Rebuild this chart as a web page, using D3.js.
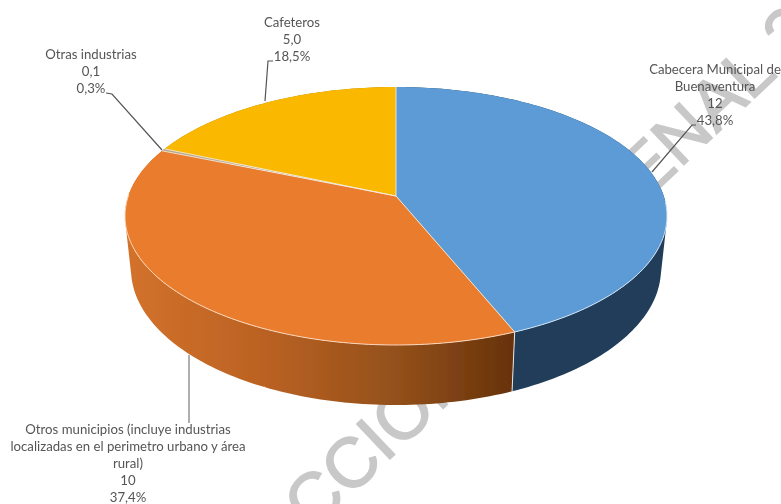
<!DOCTYPE html>
<html>
<head>
<meta charset="utf-8">
<script src="https://cdn.jsdelivr.net/npm/d3@7"></script>
<style>
html,body{margin:0;padding:0;background:#fff;}
svg{display:block;}
</style>
</head>
<body>
<svg id="chart" width="781" height="504"></svg>
<script>
const categories = ["Cabecera Municipal de Buenaventura", "Otros municipios (incluye industrias localizadas en el perimetro urbano y área rural)", "Otras industrias", "Cafeteros"];
const amounts = ["12", "10", "0,1", "5,0"];
const percents = [43.8, 37.4, 0.3, 18.5];
const topColors = ["#5b9bd5", "#ea7c2e", "#b9a58f", "#fab900"];
const labelLines = [
  ["Cabecera Municipal de", "Buenaventura"],
  ["Otros municipios (incluye industrias", "localizadas en el perimetro urbano y área", "rural)"],
  ["Otras industrias"],
  ["Cafeteros"]
];
const labelAnchors = [[715, 69], [128, 429], [91, 54], [292, 22]];
const leaders = [
  [[652,172],[692,125],[696,125]],
  [[189,355],[189,423]],
  [[162,150],[112,94],[106,93]],
  [[265,101],[268,61],[273,61]]
];
const leaderColors = ["#555", "#9a9a9a", "#555", "#555"];

const svg = d3.select("#chart");
const defs = svg.append("defs");
defs.append("filter").attr("id","soft").attr("x","-5%").attr("y","-5%").attr("width","110%").attr("height","110%")
  .append("feGaussianBlur").attr("stdDeviation",0.55);
const grad = defs.append("linearGradient").attr("id","orangeWall")
  .attr("gradientUnits","userSpaceOnUse").attr("x1",125).attr("x2",514).attr("y1",0).attr("y2",0);
[[0,"#d3722b"],[0.35,"#bb6223"],[0.7,"#93501a"],[1,"#67320b"]].forEach(s=>grad.append("stop").attr("offset",s[0]).attr("stop-color",s[1]));
const wallFills = ["#203e5a","url(#orangeWall)","#7a6a55","#a87c00"];

const root = svg.append("g").attr("filter","url(#soft)");

// watermark behind the pie
const wmFont = "'Liberation Sans',Arial,sans-serif";
function watermark(txt, x, y){
  root.append("text")
    .attr("transform",`translate(${x},${y}) rotate(-43.5)`)
    .attr("font-family",wmFont).attr("font-size",70)
    .attr("fill","#c8c8c8").attr("stroke","#c8c8c8").attr("stroke-width",1.5)
    .text(txt);
}
watermark("CCIÓN", 312, 533);
watermark("ENAL 2", 646, 201);

// perspective projection of a circle on two horizontal planes
const k = 0.155;
const topPlane = {x0:396, y0:196, a:267.7, b:125.9};
const botPlane = {x0:396, y0:248, a:261.8, b:132.7};
function project(plane, ang){
  const u = Math.sin(ang), v = -Math.cos(ang), w = 1 - k*v;
  return [plane.x0 + plane.a*u/w, plane.y0 + plane.b*v/w];
}
const arcs = d3.pie().sort(null).value(d=>d)(percents);
const line = d3.line();
function arcPts(plane, a0, a1){
  const n = Math.max(2, Math.ceil((a1-a0)/0.02));
  return d3.range(n+1).map(i=>project(plane, a0+(a1-a0)*i/n));
}

// side walls: one path made of equally wound quads joining matching rim points
arcs.forEach((d,i)=>{
  const t = arcPts(topPlane,d.startAngle,d.endAngle);
  const b = arcPts(botPlane,d.startAngle,d.endAngle);
  const quads = d3.range(t.length-1).map(j=>{
    const q = [t[j],t[j+1],b[j+1],b[j]];
    if (d3.polygonArea(q) < 0) q.reverse();
    return line(q)+"Z";
  });
  root.append("path").attr("d",quads.join("")).attr("fill",wallFills[i]);
});

// wall divider between blue and orange
const divAng = arcs[1].startAngle;
root.append("path").attr("d",line([project(topPlane,divAng),project(botPlane,divAng)]))
  .attr("stroke","#e8e4df").attr("stroke-width",1).attr("fill","none");

// top faces
root.selectAll("path.face").data(arcs).join("path").attr("class","face")
  .attr("d",d=>line([[topPlane.x0,topPlane.y0]].concat(arcPts(topPlane,d.startAngle,d.endAngle)))+"Z")
  .attr("fill",(d,i)=>topColors[i]);

// light radial edges
arcs.forEach(d=>{
  root.append("path").attr("d",line([[topPlane.x0,topPlane.y0],project(topPlane,d.startAngle)]))
    .attr("stroke","#f4ead9").attr("stroke-width",0.9).attr("fill","none");
});
// light front rim
const rimColors = ["#cfe3f6","#fbd7bb"];
[0,1].forEach(i=>{
  const from = Math.max(arcs[i].startAngle, 1.62);
  const to = Math.min(arcs[i].endAngle, 4.72);
  root.append("path").attr("d",line(arcPts(topPlane,from,to)))
    .attr("stroke",rimColors[i]).attr("stroke-width",1).attr("fill","none");
});

// leaders
root.selectAll("path.leader").data(leaders).join("path").attr("class","leader")
  .attr("d",d=>line(d)).attr("fill","none")
  .attr("stroke",(d,i)=>leaderColors[i]).attr("stroke-width",(d,i)=>i===1?1.6:1.2);

// labels
const rowH = 17;
categories.forEach((c,i)=>{
  const lines = labelLines[i].concat([amounts[i], percents[i].toFixed(1).replace(".",",")+"%"]);
  root.append("g").selectAll("text").data(lines).join("text")
    .attr("x",labelAnchors[i][0])
    .attr("y",(d,j)=>labelAnchors[i][1]+j*rowH)
    .attr("dy","0.35em")
    .attr("text-anchor","middle")
    .attr("font-family","Lato,'Open Sans',sans-serif")
    .attr("font-size",13.2)
    .attr("fill","#555")
    .text(d=>d);
});
</script>
</body>
</html>
